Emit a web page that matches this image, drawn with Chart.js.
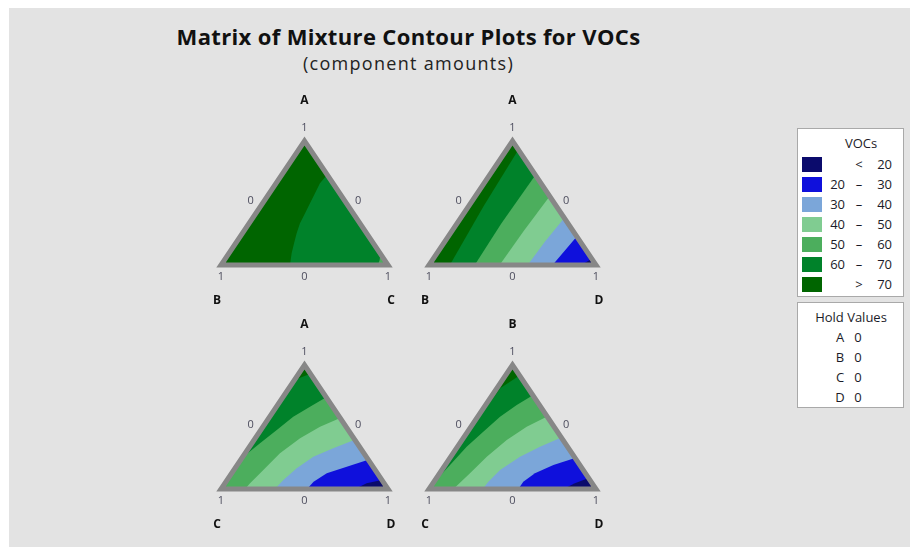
<!DOCTYPE html>
<html>
<head>
<meta charset="utf-8">
<script src="https://cdn.jsdelivr.net/npm/chart.js@4/dist/chart.umd.min.js"></script>
<style>
  html, body { margin: 0; padding: 0; background: #ffffff; width: 910px; height: 547px; overflow: hidden; }
  #backdrop { position: absolute; left: 9px; top: 8px; width: 901px; height: 539px; background: #e3e3e3; }
  .abs { position: absolute; white-space: nowrap; }
  #title { left: 0; width: 817px; top: 21px; text-align: center; font: 700 22px 'Open Sans', sans-serif; letter-spacing: 0.35px; color: #111111; }
  #subtitle { left: 0; width: 817px; top: 51px; text-align: center; font: 400 18px 'Open Sans', sans-serif; letter-spacing: 1.3px; color: #222222; }
  .box { position: absolute; background: #ffffff; border: 1px solid #a9a9a9; box-sizing: border-box; }
  .ltxt { position: absolute; font: 400 13px 'Open Sans', sans-serif; color: #1b1b28; line-height: 20px; height: 20px; }
  canvas.panel { position: absolute; }
</style>
</head>
<body>
<div id="backdrop"></div>
<div id="title" class="abs">Matrix of Mixture Contour Plots for VOCs</div>
<div id="subtitle" class="abs">(component amounts)</div>
<div id="legendHost"></div>
<div id="panels"></div>
<script>
// ---- response bands (VOCs) ----
const bandLow    = [null, 20, 30, 40, 50, 60, 70];
const bandHigh   = [20, 30, 40, 50, 60, 70, null];
const bandColors = ['#0b0b6c', '#0f10dc', '#7ba6d9', '#80cc91', '#4cae5d', '#00822a', '#006500'];

// ---- hold values ----
const holdNames  = ['A', 'B', 'C', 'D'];
const holdValues = [0, 0, 0, 0];

// ---- panels: top / left / right components ----
const panelTop   = ['A', 'A', 'A', 'B'];
const panelLeft  = ['B', 'B', 'C', 'C'];
const panelRight = ['C', 'D', 'D', 'D'];

// edge tick values: vertex amount and mid-edge amount
const vertexTick = 1;
const midTick    = 0;

// ---- contour lines, each point is [top amount, right amount] ----
const levelsABC   = [70, 60];
const contoursABC = [
  [[0.728, 0.272], [0.659, 0.263], [0.578, 0.274], [0.498, 0.284], [0.417, 0.295],
   [0.336, 0.305], [0.256, 0.325], [0.175, 0.350], [0.094, 0.376], [0, 0.413]],
  [[0.09, 0.91], [0.04, 0.93], [0, 0.94]]
];

const levelsABD   = [70, 60, 50, 40, 30, 20];
const contoursABD = [
  [[0.93, 0.07], [0.47, 0.09], [0, 0.125]],
  [[0.725, 0.275], [0.334, 0.266], [0, 0.274]],
  [[0.555, 0.445], [0.27, 0.43], [0, 0.423]],
  [[0.38, 0.62], [0.19, 0.60], [0, 0.591]],
  [[0.23, 0.77], [0.11, 0.755], [0, 0.74]],
  [[0.05, 0.95], [0.025, 0.93], [0, 0.909]]
];

const levelsACD   = [70, 60, 50, 40, 30, 20];
const contoursACD = [
  [[0.88, 0], [0.93, 0.07]],
  [[0.74, 0.26], [0.664, 0.201], [0.583, 0.141], [0.476, 0.096], [0.369, 0.049], [0.25, 0]],
  [[0.572, 0.428], [0.502, 0.342], [0.409, 0.269], [0.288, 0.209], [0.153, 0.177], [0.046, 0.151], [0, 0.144]],
  [[0.397, 0.603], [0.328, 0.508], [0.260, 0.423], [0.167, 0.370], [0.073, 0.337], [0, 0.323]],
  [[0.236, 0.764], [0.180, 0.663], [0.127, 0.570], [0.059, 0.525], [0, 0.515]],
  [[0.073, 0.927], [0.046, 0.849], [0, 0.802]]
];

const levelsBCD   = [70, 60, 50, 40, 30, 20];
const contoursBCD = [
  [[0.915, 0.085], [0.814, 0.021], [0.548, 0.013], [0.308, 0.013], [0.10, 0]],
  [[0.756, 0.244], [0.677, 0.187], [0.583, 0.134], [0.462, 0.094], [0.341, 0.055], [0.194, 0.029], [0.04, 0]],
  [[0.585, 0.415], [0.502, 0.334], [0.395, 0.268], [0.260, 0.216], [0.127, 0.182], [0, 0.146]],
  [[0.415, 0.585], [0.341, 0.494], [0.260, 0.415], [0.153, 0.349], [0.059, 0.326], [0, 0.322]],
  [[0.25, 0.75], [0.194, 0.648], [0.127, 0.571], [0.059, 0.535], [0, 0.535]],
  [[0.088, 0.912], [0.046, 0.851], [0, 0.804]]
];

const panelLevels   = [levelsABC, levelsABD, levelsACD, levelsBCD];
const panelContours = [contoursABC, contoursABD, contoursACD, contoursBCD];

// ---- layout (pixels) ----
const TRI_W = 167, TRI_H = 124;
const panelBase = [[221, 265], [429, 265], [221, 489], [429, 489]]; // left vertex of each triangle
const PAD = { left: 32, right: 32, top: 52, bottom: 46 };

// ---- ternary helpers ----
const toXY = ([t, r]) => ({ x: r + t / 2, y: t });
// position along the triangle perimeter: L=0 -> R=1 -> T=2 -> back to L=3
function perimeterPos([t, r]) {
  const l = 1 - t - r;
  if (t <= 1e-9) return r;
  if (Math.abs(l) <= 1e-3) return 1 + t;
  return 3 - t;
}
const cornerPts = [[0, 0], [0, 1], [1, 0]]; // L, R, T as [top, right]
const mod3 = v => ((v % 3) + 3) % 3;
// polygon on the side of a contour line that contains the right vertex
function regionBeyond(line) {
  const sA = perimeterPos(line[0]);
  const sB = perimeterPos(line[line.length - 1]);
  const fwd = mod3(sA - sB);
  const extra = [];
  if (mod3(1 - sB) < fwd) {
    for (let k = 0; k < 3; k++) { const d = mod3(k - sB); if (d > 1e-9 && d < fwd) extra.push([d, cornerPts[k]]); }
  } else {
    const bwd = mod3(sB - sA);
    for (let k = 0; k < 3; k++) { const d = mod3(sB - k); if (d > 1e-9 && d < bwd) extra.push([d, cornerPts[k]]); }
  }
  extra.sort((a, b) => a[0] - b[0]);
  return line.concat(extra.map(e => e[1])).map(toXY);
}
const bandColorBelow = lvl => bandColors[bandHigh.indexOf(lvl)];
const bandColorAbove = lvl => bandColors[bandLow.indexOf(lvl)];

// ---- labels around each triangle ----
const ternaryLabels = {
  id: 'ternaryLabels',
  afterDraw(chart, args, opts) {
    const { ctx, scales: { x, y } } = chart;
    const P = (t, r) => [x.getPixelForValue(r + t / 2), y.getPixelForValue(t)];
    ctx.save();
    ctx.textAlign = 'center';
    ctx.textBaseline = 'middle';
    ctx.fillStyle = '#4d4d5e';
    ctx.font = "400 11px 'Open Sans', sans-serif";
    let [px, py] = P(1, 0);     ctx.fillText(String(vertexTick), px, py - 13);
    [px, py] = P(0.5, 0);       ctx.fillText(String(midTick), px - 12, py - 2);
    [px, py] = P(0.5, 0.5);     ctx.fillText(String(midTick), px + 12, py - 2);
    [px, py] = P(0, 0);         ctx.fillText(String(vertexTick), px, py + 12);
    [px, py] = P(0, 0.5);       ctx.fillText(String(midTick), px, py + 12);
    [px, py] = P(0, 1);         ctx.fillText(String(vertexTick), px, py + 12);
    ctx.fillStyle = '#111111';
    ctx.font = "700 12px 'Open Sans', sans-serif";
    [px, py] = P(1, 0);         ctx.fillText(opts.top, px, py - 40);
    [px, py] = P(0, 0);         ctx.fillText(opts.left, px - 4, py + 36);
    [px, py] = P(0, 1);         ctx.fillText(opts.right, px + 3, py + 36);
    ctx.restore();
  }
};

const panelsHost = document.getElementById('panels');
panelContours.forEach((lines, i) => {
  const levels = panelLevels[i];
  const canvas = document.createElement('canvas');
  canvas.className = 'panel';
  canvas.width = TRI_W + PAD.left + PAD.right;
  canvas.height = TRI_H + PAD.top + PAD.bottom;
  canvas.style.left = (panelBase[i][0] - PAD.left) + 'px';
  canvas.style.top = (panelBase[i][1] - TRI_H - PAD.top) + 'px';
  panelsHost.appendChild(canvas);

  const triangle = cornerPts.map(toXY);
  const datasets = [];
  const n = lines.length;
  datasets.push({
    data: triangle, showLine: true, fill: 'shape', tension: 0,
    backgroundColor: bandColorAbove(levels[0]), borderWidth: 0, pointRadius: 0, order: n + 2
  });
  lines.forEach((line, k) => {
    datasets.push({
      data: regionBeyond(line), showLine: true, fill: 'shape', tension: 0,
      backgroundColor: bandColorBelow(levels[k]), borderWidth: 0, pointRadius: 0, order: n + 1 - k
    });
  });
  datasets.push({
    data: [triangle[0], triangle[1], triangle[2], triangle[0], triangle[1]],
    showLine: true, fill: false, tension: 0, clip: false,
    borderColor: '#878787', borderWidth: 5, borderJoinStyle: 'miter', pointRadius: 0, order: 0
  });

  new Chart(canvas, {
    type: 'scatter',
    data: { datasets },
    options: {
      responsive: false, animation: false, devicePixelRatio: 1,
      layout: { padding: PAD },
      scales: {
        x: { type: 'linear', min: 0, max: 1, display: false },
        y: { type: 'linear', min: 0, max: 1, display: false }
      },
      plugins: {
        legend: { display: false }, tooltip: { enabled: false },
        ternaryLabels: { top: panelTop[i], left: panelLeft[i], right: panelRight[i] }
      },
      events: []
    },
    plugins: [ternaryLabels]
  });
});

// ---- legend boxes ----
const host = document.getElementById('legendHost');
function addEl(cls, css, text) {
  const d = document.createElement('div');
  d.className = cls; d.style.cssText = css; if (text !== undefined) d.textContent = text;
  host.appendChild(d); return d;
}
addEl('box', 'left:797px;top:128px;width:107px;height:169px;');
addEl('ltxt', 'left:831px;top:133px;width:60px;text-align:center;', 'VOCs');
bandColors.forEach((c, k) => {
  const top = 157 + 20 * k;
  addEl('abs', `left:802px;top:${top}px;width:20px;height:15px;background:${c};`);
  const ty = top - 3;
  const openLow = bandLow[k] === null, openHigh = bandHigh[k] === null;
  if (!openLow && !openHigh) addEl('ltxt', `left:818px;top:${ty}px;width:27px;text-align:right;`, String(bandLow[k]));
  const mid = openLow ? '<' : (openHigh ? '>' : '–');
  addEl('ltxt', `left:850px;top:${ty}px;width:18px;text-align:center;`, mid);
  const hi = openHigh ? bandLow[k] : bandHigh[k];
  addEl('ltxt', `left:865px;top:${ty}px;width:27px;text-align:right;`, String(hi));
});
addEl('box', 'left:797px;top:302px;width:107px;height:106px;');
addEl('ltxt', 'left:801px;top:307px;width:100px;text-align:center;', 'Hold Values');
holdNames.forEach((nm, k) => {
  const ty = 327 + 20 * k;
  addEl('ltxt', `left:834px;top:${ty}px;width:12px;text-align:center;`, nm);
  addEl('ltxt', `left:852px;top:${ty}px;width:12px;text-align:center;`, String(holdValues[k]));
});
</script>
</body>
</html>
